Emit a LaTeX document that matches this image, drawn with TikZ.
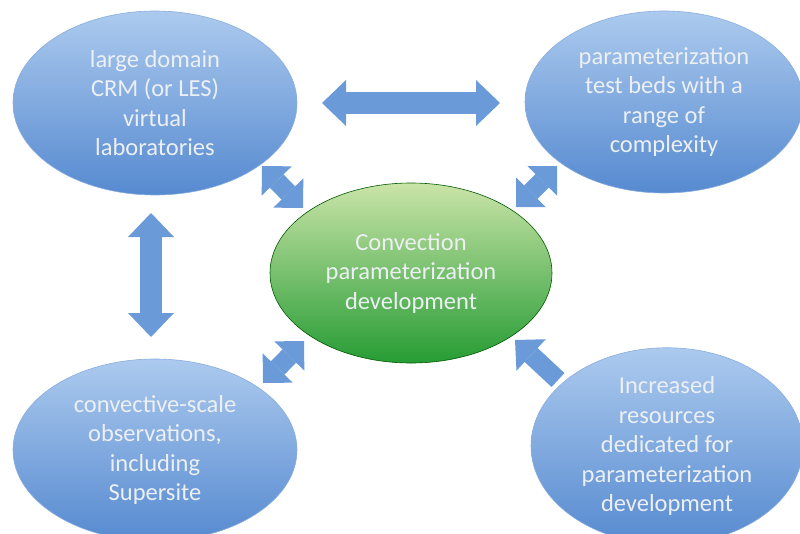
\documentclass[tikz,border=0pt]{standalone}
\usepackage{fontspec}
\setmainfont{Carlito}
\usetikzlibrary{shapes.geometric,arrows.meta}
\definecolor{bluetop}{RGB}{172,202,238}
\definecolor{bluebot}{RGB}{86,138,208}
\definecolor{greentop}{RGB}{202,228,168}
\definecolor{greenbot}{RGB}{38,156,52}
\definecolor{arrowblue}{RGB}{106,154,216}
\definecolor{txt}{RGB}{236,239,243}
\begin{document}
\begin{tikzpicture}[x=1pt,y=-1pt,
  bubble/.style={ellipse, inner sep=0pt, align=center, text=txt,
    font=\fontsize{24.5}{29.5}\selectfont, top color=bluetop, bottom color=bluebot,
    draw=bluebot!70!white, line width=0.6pt},
  core/.style={bubble, top color=greentop, bottom color=greenbot, draw=green!35!black},
  bigarrow/.style={line width=22pt, draw=arrowblue, {Triangle[width=46pt,length=24pt,line width=0pt]}-{Triangle[width=46pt,length=24pt,line width=0pt]}},
  smallarrow/.style={line width=19pt, draw=arrowblue, {Triangle[width=42pt,length=21pt,line width=0pt]}-{Triangle[width=42pt,length=21pt,line width=0pt]}},
  onearrow/.style={line width=19pt, draw=arrowblue, -{Triangle[width=43pt,length=22pt,line width=0pt]}}
]
\useasboundingbox (0,0) rectangle (800,533);
\clip (0,0) rectangle (800,533);

\node[bubble, minimum width=284pt, minimum height=184pt] (crm) at (155,103)
  {large domain\\CRM (or LES)\\virtual\\laboratories};
\node[bubble, minimum width=278pt, minimum height=182pt] (beds) at (664,102)
  {parameterization\\test beds with a\\range of\\complexity};
\node[core, minimum width=282pt, minimum height=180pt] (conv) at (411,273)
  {Convection\\parameterization\\development};
\node[bubble, minimum width=284pt, minimum height=182pt] (obs) at (155,450)
  {convective-scale\\observations,\\including\\Supersite};
\node[bubble, minimum width=272pt, minimum height=186pt] (res) at (667,446)
  {Increased\\resources\\dedicated for\\parameterization\\development};

\coordinate (h1) at (322,103);
\coordinate (h2) at (500,103);
\coordinate (v1) at (151,213);
\coordinate (v2) at (151,337);
\coordinate (a1) at (262,166);
\coordinate (a2) at (303,208);
\coordinate (b1) at (516,207);
\coordinate (b2) at (557,166);
\coordinate (c1) at (263,383);
\coordinate (c2) at (304,341);
\coordinate (d1) at (558,380);
\coordinate (d2) at (515,340);

\draw[bigarrow] (h1) -- (h2);
\draw[bigarrow] (v1) -- (v2);
\draw[smallarrow] (a1) -- (a2);
\draw[smallarrow] (b1) -- (b2);
\draw[smallarrow] (c1) -- (c2);
\draw[onearrow] (d1) -- (d2);
\end{tikzpicture}
\end{document}
